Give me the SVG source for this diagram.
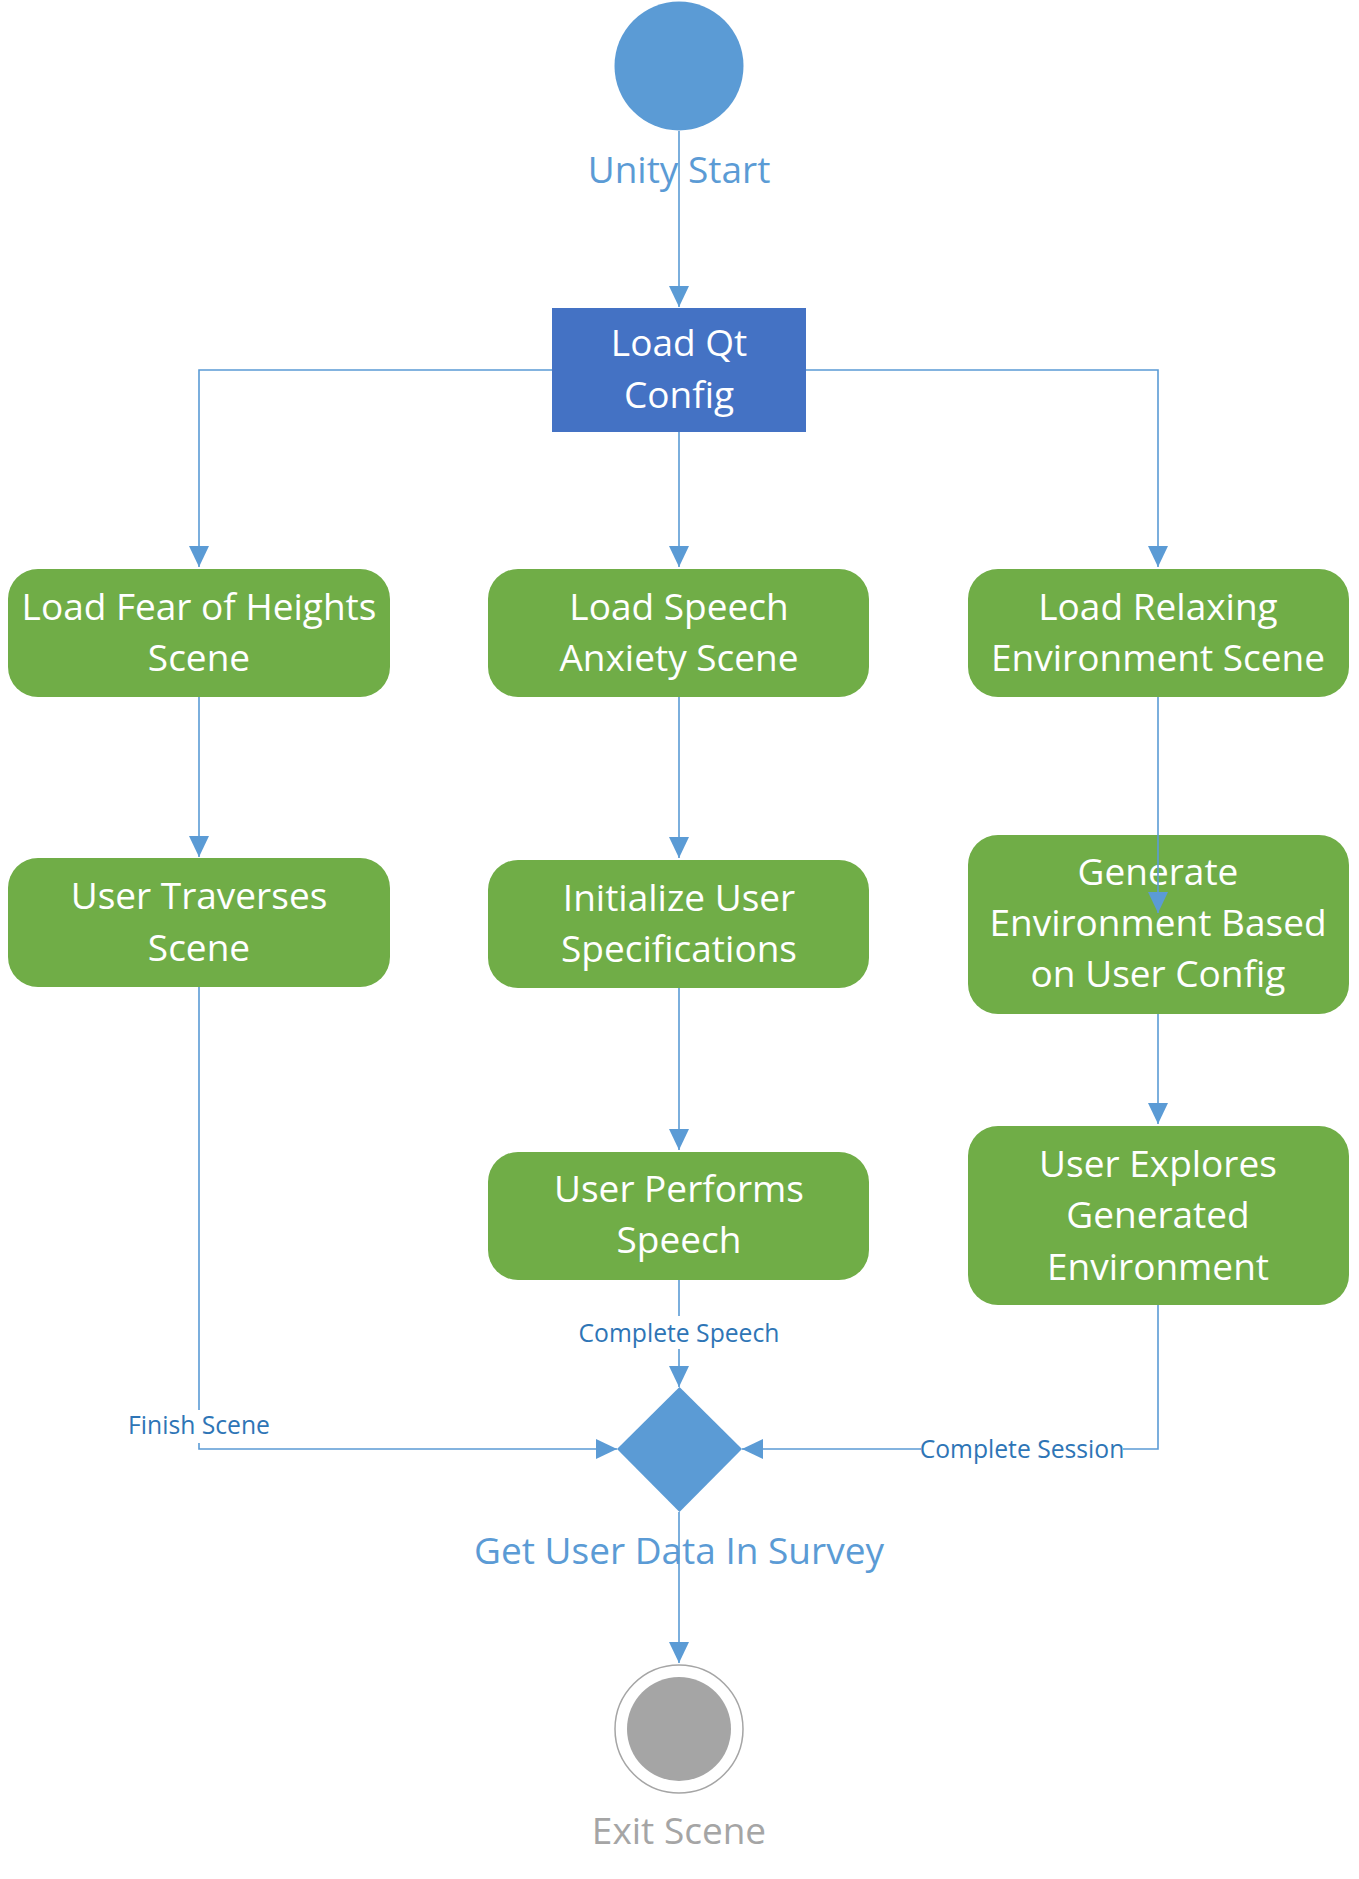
<svg xmlns="http://www.w3.org/2000/svg" width="1359" height="1879" viewBox="0 0 1359 1879">
<defs>
<style>
.act{fill:#70ad47}
.nt{font-family:"Open Sans","Noto Sans",sans-serif;font-size:37px;fill:#ffffff;text-anchor:middle}
.cap{font-family:"Open Sans","Noto Sans",sans-serif;font-size:37px;text-anchor:middle}
.lbl{font-family:"Open Sans","Noto Sans",sans-serif;font-size:24.7px;fill:#2e75b6;text-anchor:middle}
.con{fill:none;stroke:#5b9bd5;stroke-width:1.6}
.bg{fill:#ffffff}
</style>
<marker id="arr" viewBox="0 0 21 20" refX="21" refY="10" markerWidth="21" markerHeight="20" markerUnits="userSpaceOnUse" orient="auto">
<path d="M0,0 L21,10 L0,20 z" fill="#5b9bd5"/>
</marker>
</defs>
<rect width="1359" height="1879" fill="#ffffff"/>

<g id="start">
<circle cx="679" cy="66" r="64.5" fill="#5b9bd5"/>
<text class="cap" x="679" y="183" fill="#5b9bd5">Unity Start</text>
</g>

<g id="loadQt">
<rect x="552" y="308" width="254" height="124" fill="#4472c4"/>
<text class="nt" x="679" y="356">Load Qt</text>
<text class="nt" x="679" y="408">Config</text>
</g>

<g id="loadHeights">
<rect class="act" x="8" y="569" width="382" height="128" rx="30"/>
<text class="nt" x="199" y="620">Load Fear of Heights</text>
<text class="nt" x="199" y="671">Scene</text>
</g>

<g id="loadSpeech">
<rect class="act" x="488" y="569" width="381" height="128" rx="30"/>
<text class="nt" x="679" y="620">Load Speech</text>
<text class="nt" x="679" y="671">Anxiety Scene</text>
</g>

<g id="loadRelax">
<rect class="act" x="968" y="569" width="381" height="128" rx="30"/>
<text class="nt" x="1158" y="620">Load Relaxing</text>
<text class="nt" x="1158" y="671">Environment Scene</text>
</g>

<g id="traverse">
<rect class="act" x="8" y="858" width="382" height="129" rx="30"/>
<text class="nt" x="199" y="909">User Traverses</text>
<text class="nt" x="199" y="961">Scene</text>
</g>

<g id="initSpec">
<rect class="act" x="488" y="860" width="381" height="128" rx="30"/>
<text class="nt" x="679" y="911">Initialize User</text>
<text class="nt" x="679" y="962">Specifications</text>
</g>

<g id="generate">
<rect class="act" x="968" y="835" width="381" height="179" rx="30"/>
<text class="nt" x="1158" y="885">Generate</text>
<text class="nt" x="1158" y="936">Environment Based</text>
<text class="nt" x="1158" y="987">on User Config</text>
</g>

<g id="performSpeech">
<rect class="act" x="488" y="1152" width="381" height="128" rx="30"/>
<text class="nt" x="679" y="1202">User Performs</text>
<text class="nt" x="679" y="1253">Speech</text>
</g>

<g id="explore">
<rect class="act" x="968" y="1126" width="381" height="179" rx="30"/>
<text class="nt" x="1158" y="1177">User Explores</text>
<text class="nt" x="1158" y="1228">Generated</text>
<text class="nt" x="1158" y="1280">Environment</text>
</g>

<g id="merge">
<polygon points="679.5,1387 742,1449 679.5,1512 617,1449" fill="#5b9bd5"/>
<text class="cap" x="679" y="1564" fill="#5b9bd5">Get User Data In Survey</text>
</g>

<g id="end">
<circle cx="679" cy="1729" r="64" fill="#ffffff" stroke="#a5a5a5" stroke-width="1.5"/>
<circle cx="679" cy="1729" r="52" fill="#a5a5a5"/>
<text class="cap" x="679" y="1844" fill="#a5a5a5">Exit Scene</text>
</g>

<g id="connectors">
<path class="con" d="M679,131 V307" marker-end="url(#arr)"/>
<path class="con" d="M552,370 H199 V567" marker-end="url(#arr)"/>
<path class="con" d="M679,432 V567" marker-end="url(#arr)"/>
<path class="con" d="M806,370 H1158 V567" marker-end="url(#arr)"/>
<path class="con" d="M199,697 V857" marker-end="url(#arr)"/>
<path class="con" d="M679,697 V858" marker-end="url(#arr)"/>
<path class="con" d="M1158,697 V913" marker-end="url(#arr)"/>
<path class="con" d="M679,988 V1150" marker-end="url(#arr)"/>
<path class="con" d="M1158,1014 V1124" marker-end="url(#arr)"/>
<path class="con" d="M199,987 V1449 H617" marker-end="url(#arr)"/>
<path class="con" d="M679,1280 V1387" marker-end="url(#arr)"/>
<path class="con" d="M1158,1305 V1449 H742" marker-end="url(#arr)"/>
<path class="con" d="M679,1512 V1663" marker-end="url(#arr)"/>
<rect class="bg" x="127" y="1410" width="144" height="33"/>
<text class="lbl" x="199" y="1434">Finish Scene</text>
<rect class="bg" x="576" y="1316" width="206" height="33"/>
<text class="lbl" x="679" y="1342">Complete Speech</text>
<rect class="bg" x="921" y="1436" width="202" height="28"/>
<text class="lbl" x="1022" y="1458">Complete Session</text>
</g>
</svg>
